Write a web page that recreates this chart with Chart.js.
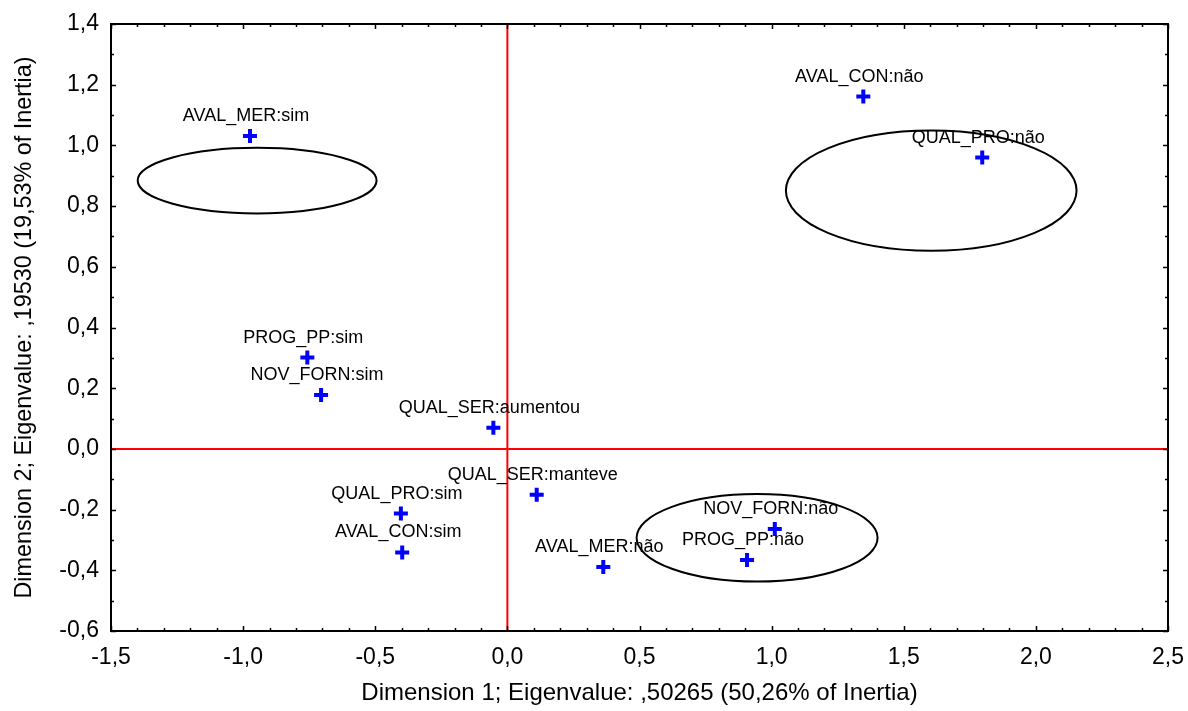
<!DOCTYPE html>
<html>
<head>
<meta charset="utf-8">
<script src="https://cdn.jsdelivr.net/npm/chart.js@4"></script>
<style>
  html, body { margin: 0; padding: 0; background: #fff; }
  #wrap { width: 1188px; height: 711px; }
</style>
</head>
<body>
<div id="wrap"><canvas id="c" width="1188" height="711"></canvas></div>
<script>
// ---- data ----
const pointLabels = ['AVAL_MER:sim','AVAL_CON:não','QUAL_PRO:não','PROG_PP:sim','NOV_FORN:sim','QUAL_SER:aumentou','QUAL_SER:manteve','QUAL_PRO:sim','AVAL_CON:sim','AVAL_MER:não','NOV_FORN:não','PROG_PP:não'];
const dim1 = [-0.974, 1.347, 1.797, -0.757, -0.705, -0.053, 0.111, -0.403, -0.398, 0.363, 1.012, 0.907];
const dim2 = [1.031, 1.161, 0.960, 0.301, 0.178, 0.070, -0.151, -0.213, -0.341, -0.389, -0.264, -0.366];
const xTicks = [-1.5, -1.0, -0.5, 0.0, 0.5, 1.0, 1.5, 2.0, 2.5];
const yTicks = [-0.6, -0.4, -0.2, 0.0, 0.2, 0.4, 0.6, 0.8, 1.0, 1.2, 1.4];
// ellipses: centre x, centre y, half-width, half-height (data units)
const ellCx = [-0.947, 1.604, 0.945];
const ellCy = [0.884, 0.851, -0.293];
const ellRx = [0.452, 0.550, 0.456];
const ellRy = [0.108, 0.198, 0.144];
const xTitle = 'Dimension 1; Eigenvalue: ,50265 (50,26% of Inertia)';
const yTitle = 'Dimension 2; Eigenvalue: ,19530 (19,53% of Inertia)';

const FONT = '"Liberation Sans", Arial, sans-serif';
const fmt = v => Number(v).toFixed(1).replace('.', ',');

const points = dim1.map((x, i) => ({ x: x, y: dim2[i] }));

const framePlugin = {
  id: 'frame',
  afterDatasetsDraw(chart) {
    const { ctx, chartArea: a, scales } = chart;
    const xs = scales.x, ys = scales.y;
    ctx.save();
    // ellipses
    ctx.strokeStyle = '#000';
    ctx.lineWidth = 2;
    for (let i = 0; i < ellCx.length; i++) {
      const cx = xs.getPixelForValue(ellCx[i]);
      const cy = ys.getPixelForValue(ellCy[i]);
      const rx = Math.abs(xs.getPixelForValue(ellCx[i] + ellRx[i]) - cx);
      const ry = Math.abs(ys.getPixelForValue(ellCy[i] + ellRy[i]) - cy);
      ctx.beginPath();
      ctx.ellipse(cx, cy, rx, ry, 0, 0, Math.PI * 2);
      ctx.stroke();
    }
    // point labels
    ctx.fillStyle = '#000';
    ctx.font = '18px ' + FONT;
    ctx.textAlign = 'center';
    ctx.textBaseline = 'alphabetic';
    const meta = chart.getDatasetMeta(0);
    meta.data.forEach((el, i) => {
      ctx.fillText(pointLabels[i], el.x - 4, el.y - 15);
    });
    // frame
    ctx.strokeStyle = '#000';
    ctx.lineWidth = 2;
    ctx.strokeRect(a.left, a.top, a.right - a.left, a.bottom - a.top);
    // inward tick marks
    ctx.lineWidth = 1.5;
    ctx.beginPath();
    const xMin = xs.min, xMax = xs.max, yMin = ys.min, yMax = ys.max;
    for (let k = Math.round(xMin * 10); k <= Math.round(xMax * 10); k++) {
      const v = k / 10;
      const major = k % 5 === 0;
      const len = major ? 5 : 3;
      const px = Math.round(xs.getPixelForValue(v)) + 0.5;
      ctx.moveTo(px, a.bottom); ctx.lineTo(px, a.bottom - len);
      ctx.moveTo(px, a.top); ctx.lineTo(px, a.top + len);
    }
    for (let k = Math.round(yMin * 10); k <= Math.round(yMax * 10); k++) {
      const v = k / 10;
      const major = k % 2 === 0;
      const len = major ? 5 : 3;
      const py = Math.round(ys.getPixelForValue(v)) + 0.5;
      ctx.moveTo(a.left, py); ctx.lineTo(a.left + len, py);
      ctx.moveTo(a.right, py); ctx.lineTo(a.right - len, py);
    }
    ctx.stroke();
    ctx.restore();
  }
};

new Chart(document.getElementById('c'), {
  type: 'scatter',
  data: {
    datasets: [
      {
        data: points,
        pointStyle: 'cross',
        radius: 7,
        borderWidth: 4,
        borderColor: '#0000ff',
        backgroundColor: '#0000ff',
        order: 0
      },
      {
        type: 'line',
        data: [{ x: xTicks[0], y: 0 }, { x: xTicks[xTicks.length - 1], y: 0 }],
        borderColor: '#ff0000',
        borderWidth: 2,
        pointRadius: 0,
        order: 1
      },
      {
        type: 'line',
        data: [{ x: 0, y: yTicks[0] }, { x: 0, y: yTicks[yTicks.length - 1] }],
        borderColor: '#ff0000',
        borderWidth: 2,
        pointRadius: 0,
        order: 1
      }
    ]
  },
  options: {
    responsive: false,
    animation: false,
    devicePixelRatio: 1,
    events: [],
    layout: { padding: { top: 24, right: 20, left: 0, bottom: 0 } },
    plugins: { legend: { display: false }, tooltip: { enabled: false } },
    scales: {
      x: {
        type: 'linear',
        min: xTicks[0],
        max: xTicks[xTicks.length - 1],
        grid: { display: false, drawTicks: false },
        border: { display: false },
        afterBuildTicks: s => { s.ticks = xTicks.map(v => ({ value: v })); },
        afterFit: s => { s.height = 80; s.paddingLeft = 0; s.paddingRight = 0; },
        ticks: {
          autoSkip: false, maxRotation: 0, padding: 13, color: '#000',
          font: { family: FONT, size: 23 },
          callback: v => fmt(v)
        },
        title: {
          display: true, text: xTitle, color: '#000',
          font: { family: FONT, size: 24 },
          padding: { top: 0, bottom: 3 }
        }
      },
      y: {
        type: 'linear',
        min: yTicks[0],
        max: yTicks[yTicks.length - 1],
        grid: { display: false, drawTicks: false },
        border: { display: false },
        afterBuildTicks: s => { s.ticks = yTicks.map(v => ({ value: v })); },
        afterFit: s => { s.width = 111; s.paddingTop = 0; s.paddingBottom = 0; },
        ticks: {
          autoSkip: false, padding: 12, color: '#000',
          font: { family: FONT, size: 23 },
          callback: v => fmt(v)
        },
        title: {
          display: true, text: yTitle, color: '#000',
          font: { family: FONT, size: 23.4 },
          padding: { top: 11, bottom: 0 }
        }
      }
    }
  },
  plugins: [framePlugin]
});
</script>
</body>
</html>
